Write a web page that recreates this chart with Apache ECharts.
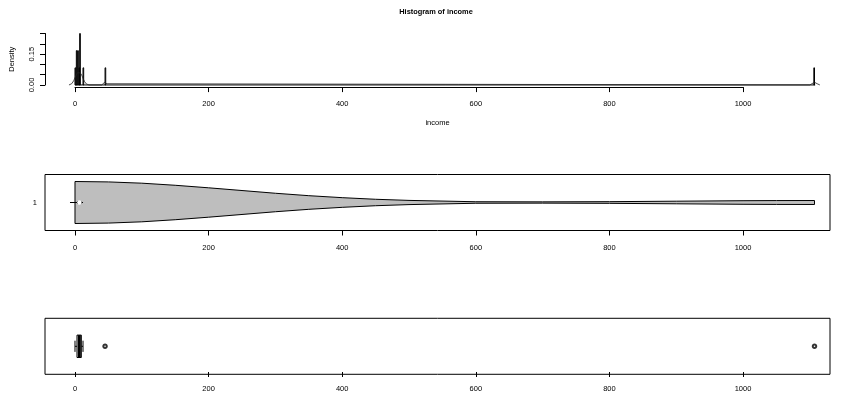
<!DOCTYPE html>
<html>
<head>
<meta charset="utf-8">
<script src="https://cdn.jsdelivr.net/npm/echarts@6/dist/echarts.min.js"></script>
<style>
  html, body { margin: 0; padding: 0; background: #fff; }
  #chart { width: 844px; height: 393px; }
</style>
</head>
<body>
<div id="chart"></div>
<script>
// ---- income data summaries ----
// histogram: left edge of each non-empty unit-width bin and its density
const histBinLeft = [0, 2, 4, 6, 7, 12, 45, 1106];
const histDensity = [0.0833, 0.1667, 0.1667, 0.0833, 0.25, 0.0833, 0.0833, 0.0833];
const histBinWidth = 1;
const histRange = [0, 1108];

// kernel density line drawn over the histogram
const densX = [-9, -5, -2, 0, 2, 4, 6, 8, 10, 12, 14, 17, 21, 40, 42, 44, 45, 46, 48, 50, 1100, 1103, 1105, 1107, 1109, 1111, 1115];
const densY = [0, 0.006, 0.02, 0.035, 0.05, 0.06, 0.062, 0.058, 0.048, 0.033, 0.018, 0.005, 0, 0, 0.006, 0.012, 0.013, 0.012, 0.006, 0, 0, 0.006, 0.012, 0.013, 0.012, 0.006, 0];

// violin outline: income positions and relative density
const violinX = [0, 50, 100, 150, 200, 250, 300, 350, 400, 450, 500, 600, 700, 800, 900, 1000, 1050, 1107];
const violinD = [1, 0.98, 0.92, 0.82, 0.70, 0.57, 0.44, 0.325, 0.23, 0.154, 0.10, 0.036, 0.03, 0.04, 0.062, 0.085, 0.092, 0.095];

// five-number summary: lower whisker, Q1, median, Q3, upper whisker
const boxStats = [0, 3, 6.5, 9.5, 12];
const outliers = [45, 1107];

// tick labels
const xTicks = [0, 200, 400, 600, 800, 1000];
const yDensityTicks = [0, 0.05, 0.10, 0.15, 0.20, 0.25];
const yDensityLabels = [0, 0.15];

const FONT = 'Liberation Sans';
const FS = 7.5;
const XMIN = -44.9, XMAX = 1130.2;

const chart = echarts.init(document.getElementById('chart'), null, { renderer: 'canvas' });

const hidden = { show: false };
const hiddenAxis = (extra) => Object.assign({
  type: 'value', axisLine: hidden, axisTick: hidden, axisLabel: hidden, splitLine: hidden
}, extra);

const xDisplayAxis = (gridIndex, showLine) => ({
  type: 'value', gridIndex, min: xTicks[0], max: xTicks[xTicks.length - 1], interval: xTicks[1] - xTicks[0],
  axisLine: { show: showLine, lineStyle: { color: '#000', width: 1 } },
  axisTick: { show: true, inside: false, length: 5, lineStyle: { color: '#000' } },
  axisLabel: { color: '#000', fontFamily: FONT, fontSize: FS, margin: 13, formatter: (v) => String(v) },
  splitLine: hidden
});

const option = {
  animation: false,
  backgroundColor: '#fff',
  title: {
    text: 'Histogram of income',
    left: 431, top: 3, textAlign: 'center',
    textStyle: { fontFamily: FONT, fontWeight: 'bold', fontSize: 7.4, color: '#000' }
  },
  grid: [
    // 0: histogram plotting region
    { left: 45, width: 785, top: 31.4, height: 55.7 },
    // 1: histogram x axis (0..1000)
    { left: 75, width: 668, top: 31.4, height: 55.7 },
    // 2: histogram y axis (0..0.25)
    { left: 45, width: 785, top: 33.5, height: 51.5 },
    // 3: violin panel
    { left: 45, width: 785, top: 174.5, height: 56, show: true, borderColor: '#000', borderWidth: 1, backgroundColor: 'transparent' },
    // 4: boxplot panel
    { left: 45, width: 785, top: 318.3, height: 56, show: true, borderColor: '#000', borderWidth: 1, backgroundColor: 'transparent' },
    // 5: violin x axis
    { left: 75, width: 668, top: 174.5, height: 56 },
    // 6: boxplot x axis
    { left: 75, width: 668, top: 318.3, height: 56 }
  ],
  xAxis: [
    hiddenAxis({ gridIndex: 0, min: XMIN, max: XMAX,
      name: 'income', nameLocation: 'middle', nameGap: 32,
      nameTextStyle: { fontFamily: FONT, fontSize: FS, color: '#000' } }),
    xDisplayAxis(1, true),
    hiddenAxis({ gridIndex: 2, min: 0, max: 1 }),
    hiddenAxis({ gridIndex: 3, min: XMIN, max: XMAX }),
    hiddenAxis({ gridIndex: 4, min: XMIN, max: XMAX }),
    xDisplayAxis(5, false),
    xDisplayAxis(6, false)
  ],
  yAxis: [
    hiddenAxis({ gridIndex: 0, min: -0.0104, max: 0.2604 }),
    hiddenAxis({ gridIndex: 1, min: 0, max: 1 }),
    {
      type: 'value', gridIndex: 2, min: yDensityTicks[0], max: yDensityTicks[yDensityTicks.length - 1], interval: 0.05,
      name: 'Density', nameLocation: 'middle', nameGap: 29,
      nameTextStyle: { fontFamily: FONT, fontSize: FS, color: '#000' },
      axisLine: { show: true, lineStyle: { color: '#000', width: 1 } },
      axisTick: { show: true, inside: false, length: 5, lineStyle: { color: '#000' } },
      axisLabel: {
        color: '#000', fontFamily: FONT, fontSize: FS, rotate: 90, margin: 9,
        customValues: yDensityLabels,
        formatter: (v) => v.toFixed(2)
      },
      splitLine: hidden
    },
    {
      type: 'value', gridIndex: 3, min: 0.5, max: 1.5,
      axisLine: hidden,
      axisTick: { show: true, inside: false, length: 5, customValues: [1], lineStyle: { color: '#000' } },
      axisLabel: { color: '#000', fontFamily: FONT, fontSize: FS, margin: 8, customValues: [1] },
      splitLine: hidden
    },
    hiddenAxis({ gridIndex: 4, min: 0.5, max: 1.5 }),
    hiddenAxis({ gridIndex: 5, min: 0, max: 1 }),
    hiddenAxis({ gridIndex: 6, min: 0, max: 1 })
  ],
  series: [
    // histogram bars
    {
      type: 'custom', xAxisIndex: 0, yAxisIndex: 0,
      data: histBinLeft.map((x, i) => [x, histDensity[i]]),
      renderItem: (params, api) => {
        const x = api.value(0), d = api.value(1);
        const p0 = api.coord([x, d]);
        const p1 = api.coord([x + histBinWidth, 0]);
        return {
          type: 'rect',
          shape: { x: p0[0], y: p0[1], width: p1[0] - p0[0], height: p1[1] - p0[1] },
          style: { fill: 'none', stroke: '#000', lineWidth: 1 }
        };
      },
      z: 3
    },
    // empty bins along the baseline
    {
      type: 'line', xAxisIndex: 0, yAxisIndex: 0, symbol: 'none',
      data: histRange.map((x) => [x, 0]),
      lineStyle: { color: '#000', width: 1 }
    },
    // density curve
    {
      type: 'line', xAxisIndex: 0, yAxisIndex: 0, symbol: 'none',
      data: densX.map((x, i) => [x, densY[i]]),
      lineStyle: { color: '#222', width: 0.8 }
    },
    // violin
    {
      type: 'custom', xAxisIndex: 3, yAxisIndex: 3,
      data: [[1]],
      renderItem: (params, api) => {
        const c = 1, half = 0.375;
        const top = violinX.map((x, i) => api.coord([x, c + half * violinD[i]]));
        const bot = violinX.map((x, i) => api.coord([x, c - half * violinD[i]])).reverse();
        const pWl = api.coord([boxStats[0], c]), pWh = api.coord([boxStats[4], c]);
        const pQ1 = api.coord([boxStats[1], c + 0.025]), pQ3 = api.coord([boxStats[3], c - 0.025]);
        const pMed = api.coord([boxStats[2], c]);
        return {
          type: 'group',
          children: [
            { type: 'polygon', shape: { points: top.concat(bot) },
              style: { fill: '#bebebe', stroke: '#000', lineWidth: 1 } },
            { type: 'line', shape: { x1: pWl[0], y1: pWl[1], x2: pWh[0], y2: pWh[1] },
              style: { stroke: '#000', lineWidth: 1 } },
            { type: 'rect', shape: { x: pQ1[0], y: pQ1[1], width: pQ3[0] - pQ1[0], height: pQ3[1] - pQ1[1] },
              style: { fill: '#000' } },
            { type: 'circle', shape: { cx: pMed[0], cy: pMed[1], r: 2.2 },
              style: { fill: '#fff', stroke: 'none' } }
          ]
        };
      }
    },
    // boxplot
    {
      type: 'custom', xAxisIndex: 4, yAxisIndex: 4,
      data: [[1]],
      renderItem: (params, api) => {
        const c = 1, bw = 0.2, sw = 0.1;
        const [lo, q1, med, q3, hi] = boxStats;
        const a = api.coord([q1, c + bw]), b = api.coord([q3, c - bw]);
        const m1 = api.coord([med, c + bw]), m2 = api.coord([med, c - bw]);
        const wl1 = api.coord([lo, c]), wl2 = api.coord([q1, c]);
        const wh1 = api.coord([q3, c]), wh2 = api.coord([hi, c]);
        const sl1 = api.coord([lo, c + sw]), sl2 = api.coord([lo, c - sw]);
        const sh1 = api.coord([hi, c + sw]), sh2 = api.coord([hi, c - sw]);
        const line = (p, q, extra) => ({
          type: 'line', shape: { x1: p[0], y1: p[1], x2: q[0], y2: q[1] },
          style: Object.assign({ stroke: '#000', lineWidth: 1 }, extra)
        });
        return {
          type: 'group',
          children: [
            line(wl1, wl2, { lineDash: [2, 2] }),
            line(wh1, wh2, { lineDash: [2, 2] }),
            line(sl1, sl2), line(sh1, sh2),
            { type: 'rect', shape: { x: a[0], y: a[1], width: b[0] - a[0], height: b[1] - a[1] },
              style: { fill: '#fff', stroke: '#000', lineWidth: 1 } },
            line(m1, m2, { lineWidth: 3 })
          ]
        };
      }
    },
    // boxplot outliers
    {
      type: 'scatter', xAxisIndex: 4, yAxisIndex: 4,
      data: outliers.map((x) => [x, 1]),
      symbol: 'emptyCircle', symbolSize: 3.5,
      itemStyle: { color: '#000', borderColor: '#000', borderWidth: 0.7 }
    }
  ]
};

chart.setOption(option);
</script>
</body>
</html>
